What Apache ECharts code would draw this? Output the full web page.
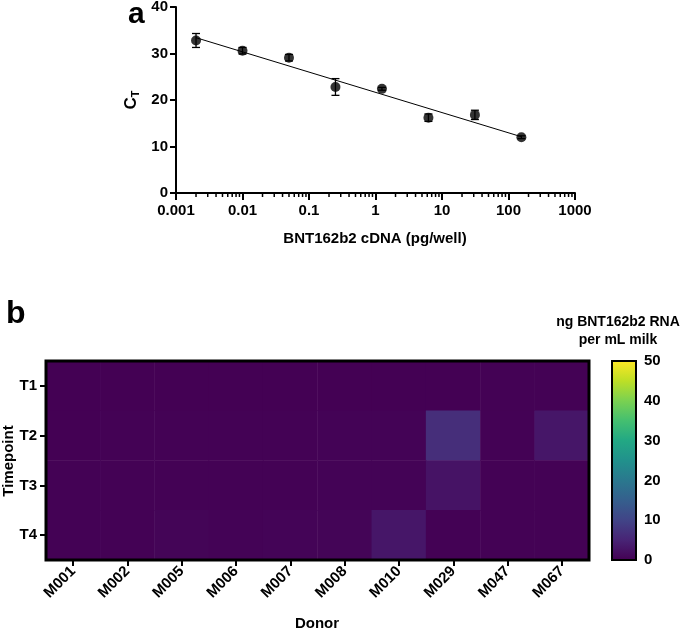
<!DOCTYPE html>
<html><head><meta charset="utf-8">
<script src="https://cdn.jsdelivr.net/npm/echarts@6/dist/echarts.min.js"></script>
<style>html,body{margin:0;padding:0;background:#fff}#c{width:685px;height:631px}</style>
</head><body><div id="c"></div>
<script>
// ---- Panel a: standard curve ----
const cdnaAmounts = [0.002, 0.01, 0.05, 0.25, 1.25, 6.25, 31.25, 156.25];
const ctMeans = [32.8, 30.6, 29.1, 22.8, 22.4, 16.2, 16.8, 12.0];
const ctErrors = [1.5, 0.7, 0.7, 1.8, 0.3, 0.8, 1.0, 0.3];
const fitLineX = [0.002, 156.25];
const fitLineY = [33.4, 12.1];
const logDecades = [0.001, 0.01, 0.1, 1, 10, 100];
const minorMultipliers = [2, 3, 4, 5, 6, 7, 8, 9];
const xTickLabels = ['0.001', '0.01', '0.1', '1', '10', '100', '1000'];

// ---- Panel b: heatmap ----
const donors = ['M001', 'M002', 'M005', 'M006', 'M007', 'M008', 'M010', 'M029', 'M047', 'M067'];
const timepoints = ['T1', 'T2', 'T3', 'T4'];
const rnaT1 = [0.05, 0.05, 0.05, 0.05, 0.05, 0.05, 0.05, 0.05, 0.2, 0.2];
const rnaT2 = [0.05, 0.2, 0.2, 0.2, 0.2, 0.3, 0.3, 6.5, 0.2, 3.0];
const rnaT3 = [0.1, 0.1, 0.1, 0.1, 0.1, 0.3, 0.3, 2.5, 0.15, 0.15];
const rnaT4 = [0.15, 0.15, 0.5, 0.3, 0.4, 0.5, 3.0, 0.15, 0.15, 0.15];
const colorbarMin = 0, colorbarMax = 50, colorbarStep = 10;
const viridis = ['#440154', '#482475', '#414487', '#355f8d', '#2a788e', '#21918c', '#22a884', '#44bf70', '#7ad151', '#bddf26', '#fde725'];

const FONT = 'Liberation Sans, Arial, Helvetica, sans-serif';
const bold = (size) => ({ fontFamily: FONT, fontWeight: 'bold', fontSize: size, color: '#000' });

const rows = [rnaT1, rnaT2, rnaT3, rnaT4];
const heatData = [];
rows.forEach((r, yi) => r.forEach((v, xi) => heatData.push([xi, yi, v])));

const minorTicks = [];
logDecades.forEach(d => minorMultipliers.forEach(m => minorTicks.push([d * m, 0])));

const labelMap = {};
xTickLabels.forEach(s => { labelMap[Number(s)] = s; });

const chart = echarts.init(document.getElementById('c'), null, { renderer: 'canvas' });

const gradStops = viridis.map((c, i) => ({ offset: i / (viridis.length - 1), color: c }));

const option = {
  backgroundColor: '#fff',
  animation: false,
  grid: [
    { left: 176, top: 7, width: 399, height: 186, outerBoundsMode: 'none', containLabel: false },
    { left: 46, top: 361, width: 543, height: 199, outerBoundsMode: 'none', containLabel: false, show: true, z: 10, borderColor: '#000', borderWidth: 3, backgroundColor: 'transparent' },
    { left: 612, top: 361, width: 24, height: 199, outerBoundsMode: 'none', containLabel: false, show: true, z: 10, borderColor: '#000', borderWidth: 2, backgroundColor: 'transparent' }
  ],
  xAxis: [
    {
      type: 'log', gridIndex: 0, min: 0.001, max: 1000, logBase: 10,
      axisLine: { show: true, onZero: false, lineStyle: { color: '#000', width: 2 } },
      axisTick: { show: true, length: 7, lineStyle: { color: '#000', width: 2 } },
      axisLabel: Object.assign(bold(15), { margin: 10, formatter: v => labelMap[v] !== undefined ? labelMap[v] : String(v) }),
      splitLine: { show: false }, minorTick: { show: false }
    },
    {
      type: 'category', gridIndex: 1, data: donors, position: 'bottom',
      axisLine: { show: false, onZero: false },
      axisTick: { show: true, alignWithLabel: true, length: 6, lineStyle: { color: '#000', width: 2 } },
      axisLabel: Object.assign(bold(15), { rotate: 45, margin: 9 }),
      splitLine: { show: false }
    },
    {
      type: 'category', gridIndex: 2, data: [''], show: false
    }
  ],
  yAxis: [
    {
      type: 'value', gridIndex: 0, min: 0, max: 40, interval: 10,
      axisLine: { show: true, onZero: false, lineStyle: { color: '#000', width: 2 } },
      axisTick: { show: true, length: 6, lineStyle: { color: '#000', width: 2 } },
      axisLabel: Object.assign(bold(15), { margin: 8 }),
      splitLine: { show: false }
    },
    {
      type: 'category', gridIndex: 1, data: timepoints, inverse: true,
      axisLine: { show: false, onZero: false },
      axisTick: { show: true, alignWithLabel: true, length: 6, lineStyle: { color: '#000', width: 2 } },
      axisLabel: Object.assign(bold(15), { margin: 9 }),
      splitLine: { show: false }
    },
    {
      type: 'value', gridIndex: 2, min: colorbarMin, max: colorbarMax, interval: colorbarStep, position: 'right',
      axisLine: { show: false, onZero: false },
      axisTick: { show: true, inside: true, length: 4, lineStyle: { color: '#000', width: 1.5 } },
      axisLabel: Object.assign(bold(15), { margin: 8 }),
      splitLine: { show: false }
    },
    {
      type: 'value', gridIndex: 2, min: colorbarMin, max: colorbarMax, interval: colorbarStep, position: 'left',
      axisLine: { show: false, onZero: false },
      axisTick: { show: true, inside: true, length: 4, lineStyle: { color: '#000', width: 1.5 } },
      axisLabel: { show: false },
      splitLine: { show: false }
    }
  ],
  visualMap: {
    show: false, type: 'continuous', min: colorbarMin, max: colorbarMax, seriesIndex: 4, dimension: 2,
    inRange: { color: viridis }
  },
  series: [
    {
      type: 'custom', xAxisIndex: 0, yAxisIndex: 0, clip: false, silent: true,
      data: minorTicks,
      renderItem: (params, api) => {
        const p = api.coord([api.value(0), 0]);
        return { type: 'line', shape: { x1: p[0], y1: p[1], x2: p[0], y2: p[1] + 4 }, style: { stroke: '#000', lineWidth: 1.5 } };
      },
      z: 1
    },
    {
      type: 'line', xAxisIndex: 0, yAxisIndex: 0, symbol: 'none',
      data: fitLineX.map((x, i) => [x, fitLineY[i]]),
      lineStyle: { color: '#000', width: 1 }, z: 2
    },
    {
      type: 'custom', xAxisIndex: 0, yAxisIndex: 0,
      data: cdnaAmounts.map((x, i) => [x, ctMeans[i], ctErrors[i]]),
      renderItem: (params, api) => {
        const x = api.value(0), y = api.value(1), e = api.value(2);
        const top = api.coord([x, y + e]);
        const bot = api.coord([x, y - e]);
        const cw = 4;
        const st = { stroke: '#000', lineWidth: 1.3 };
        return {
          type: 'group', children: [
            { type: 'line', shape: { x1: top[0], y1: top[1], x2: bot[0], y2: bot[1] }, style: st },
            { type: 'line', shape: { x1: top[0] - cw, y1: top[1], x2: top[0] + cw, y2: top[1] }, style: st },
            { type: 'line', shape: { x1: bot[0] - cw, y1: bot[1], x2: bot[0] + cw, y2: bot[1] }, style: st }
          ]
        };
      },
      z: 3
    },
    {
      type: 'scatter', xAxisIndex: 0, yAxisIndex: 0, symbol: 'circle', symbolSize: 10,
      data: cdnaAmounts.map((x, i) => [x, ctMeans[i]]),
      itemStyle: { color: '#000' }, z: 4
    },
    {
      type: 'heatmap', xAxisIndex: 1, yAxisIndex: 1, data: heatData,
      itemStyle: { borderWidth: 0 }, emphasis: { disabled: true }
    },
    {
      type: 'bar', xAxisIndex: 2, yAxisIndex: 2, data: [colorbarMax], barWidth: '100%', silent: true,
      itemStyle: { color: new echarts.graphic.LinearGradient(0, 1, 0, 0, gradStops) }
    }
  ],
  graphic: [
    { type: 'text', left: 128, top: 0, style: { text: 'a', font: 'bold 30px ' + FONT, fill: '#000' } },
    { type: 'text', left: 6, top: 298, style: { text: 'b', font: 'bold 32px ' + FONT, fill: '#000' } },
    { type: 'text', x: 618, y: 331, style: { text: 'ng BNT162b2 RNA\nper mL milk', font: 'bold 14px ' + FONT, fill: '#000', align: 'center', verticalAlign: 'middle', lineHeight: 18 } },
    { type: 'text', x: 9, y: 461, rotation: Math.PI / 2, style: { text: 'Timepoint', font: 'bold 15px ' + FONT, fill: '#000', align: 'center', verticalAlign: 'middle' } },
    { type: 'text', x: 317, y: 624, style: { text: 'Donor', font: 'bold 15px ' + FONT, fill: '#000', align: 'center', verticalAlign: 'middle' } },
    { type: 'text', x: 375, y: 239, style: { text: 'BNT162b2 cDNA (pg/well)', font: 'bold 15px ' + FONT, fill: '#000', align: 'center', verticalAlign: 'middle' } },
    {
      type: 'text', x: 131, y: 100, rotation: Math.PI / 2,
      style: {
        text: '{c|C}{t|T}', align: 'center', verticalAlign: 'middle',
        rich: {
          c: { font: 'bold 17px ' + FONT, fill: '#000', lineHeight: 20 },
          t: { font: 'bold 11px ' + FONT, fill: '#000', lineHeight: 20, verticalAlign: 'bottom', padding: [6, 0, 0, 0] }
        }
      }
    }
  ]
};
chart.setOption(option);
</script>
</body></html>
